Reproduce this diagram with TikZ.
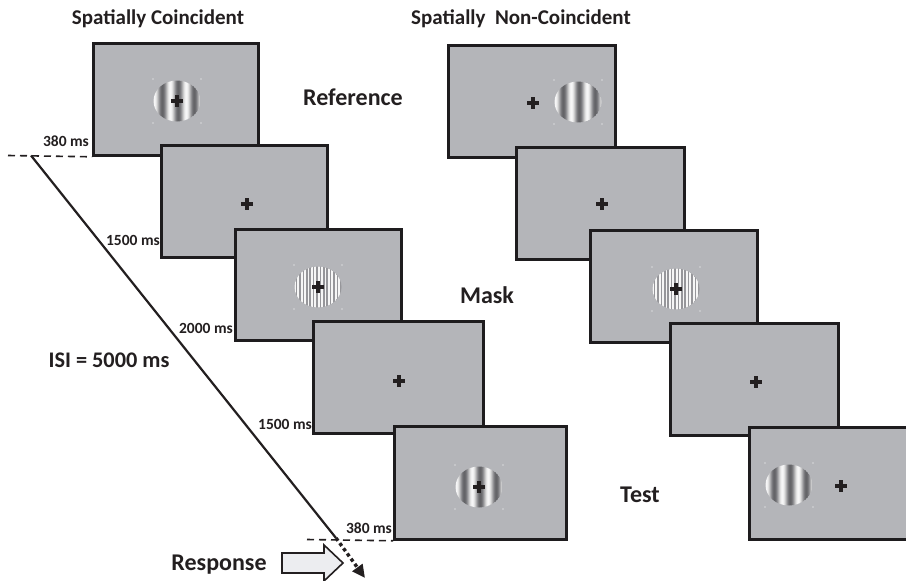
\documentclass[tikz,border=0pt]{standalone}
\usepackage{fontspec}
\setmainfont{Carlito}
\usetikzlibrary{calc,arrows.meta}

\definecolor{scr}{RGB}{180,181,185}
\definecolor{frame}{RGB}{30,28,30}
\definecolor{ink}{RGB}{35,31,32}
\definecolor{gdark}{RGB}{100,100,104}
\definecolor{glight}{RGB}{246,246,246}
\definecolor{mgray}{RGB}{150,150,154}
\definecolor{arrowfill}{RGB}{236,237,240}

\tikzset{
  screen/.style={draw=frame, fill=scr, line width=2.6pt, inner sep=0pt},
  crossline/.style={draw=ink, line width=3.3pt},
  timeline/.style={draw=ink, line width=2.2pt},
  dashline/.style={draw=ink, line width=1.6pt, dash pattern=on 7pt off 5pt},
  dotarrow/.style={draw=ink, line width=3.4pt, dash pattern=on 3.4pt off 3pt,
    -{Triangle[length=13pt,width=12pt]}},
  blockarrow/.style={draw=ink, fill=arrowfill, line width=1.6pt, line join=miter},
  title/.style={font=\fontsize{21}{24}\selectfont\bfseries, text=ink, anchor=base, inner sep=0pt},
  phase/.style={font=\fontsize{24}{28}\selectfont\bfseries, text=ink, anchor=base, inner sep=0pt},
  isi/.style={font=\fontsize{22.3}{26}\selectfont\bfseries, text=ink, anchor=base, inner sep=0pt},
  dur/.style={font=\fontsize{15.5}{18}\selectfont\bfseries, text=ink, anchor=base, inner sep=0pt},
}

% fixation cross
\newcommand\fixcross[2]{%
  \draw[crossline] (#1-6,#2) -- (#1+6,#2) (#1,#2-6) -- (#1,#2+6);}

% faint marker dots around a stimulus
\newcommand\cornerdots[2]{%
  \foreach \dx/\dy in {-24/-22,24/-22,-24/22,24/22}
    \fill[white] (#1+\dx,#2+\dy) circle (0.7);}

% low spatial frequency sinusoidal grating in an elliptical window
\newcommand\refgrating[2]{%
  \begin{scope}
    \clip (#1,#2) ellipse [x radius=23.5, y radius=20.5];
    \foreach \k in {0,...,48}{%
      \pgfmathsetmacro\g{50-50*cos(360*(\k-25)/16)}%
      \fill[glight!\g!gdark] (#1-24.5+\k,#2-22) rectangle ++(1.1,44);
    }
  \end{scope}
  \cornerdots{#1}{#2}}

% high spatial frequency square-wave mask
\newcommand\maskgrating[2]{%
  \begin{scope}
    \clip (#1,#2) ellipse [x radius=23.5, y radius=20.5];
    \fill[mgray] (#1-25,#2-22) rectangle (#1+25,#2+22);
    \foreach \k in {0,...,14}
      \fill[glight] (#1-24+\k*3.4,#2-22) rectangle ++(1.7,44);
  \end{scope}
  \cornerdots{#1}{#2}}

\begin{document}
\begin{tikzpicture}[x=1pt,y=-1pt]
\clip (0,0) rectangle (906,581);
\fill[white] (0,0) rectangle (906,581);

% ---------- spatially coincident sequence ----------
\node[screen, minimum width=165pt, minimum height=112pt] (L1) at (176,99.5) {};
\refgrating{177}{101}\fixcross{177}{101}
\node[screen, minimum width=166pt, minimum height=112pt] (L2) at (244.5,201.5) {};
\fixcross{247}{204}
\node[screen, minimum width=166pt, minimum height=111pt] (L3) at (318.5,285) {};
\maskgrating{318}{287}\fixcross{318}{287}
\node[screen, minimum width=170pt, minimum height=112pt] (L4) at (398.5,377.5) {};
\fixcross{399}{381}
\node[screen, minimum width=172pt, minimum height=113pt] (L5) at (480.5,483) {};
\refgrating{479}{487}\fixcross{479}{487}

% ---------- spatially non-coincident sequence ----------
\node[screen, minimum width=167pt, minimum height=112pt] (R1) at (532,101.5) {};
\refgrating{578}{102}\fixcross{533}{103}
\node[screen, minimum width=168pt, minimum height=112pt] (R2) at (600.5,203.5) {};
\fixcross{602}{204}
\node[screen, minimum width=167pt, minimum height=112pt] (R3) at (674,286.5) {};
\maskgrating{676}{289}\fixcross{676}{289}
\node[screen, minimum width=168pt, minimum height=112pt] (R4) at (754.5,379.5) {};
\fixcross{756}{382}
\node[screen, minimum width=172pt, minimum height=112pt] (R5) at (835.5,483.5) {};
\refgrating{789}{485}\fixcross{841}{486}

% ---------- time line ----------
\coordinate (t0) at (8,155.5);
\coordinate (d0) at (31,155.5);
\coordinate (d1) at (336,538);
\coordinate (d2) at (365,578);
\coordinate (b0) at (307,539.5);
\draw[dashline] (t0) -- (L1.south west);
\draw[dashline] (b0) -- (L5.south west);
\draw[timeline] (d0) -- (d1);
\draw[dotarrow] (d1) -- (d2);

% response arrow
\draw[blockarrow] (282,553) -- (324,553) -- (324,545) -- (343,563)
  -- (324,581) -- (324,573) -- (282,573) -- cycle;

% ---------- labels ----------
\node[title] (tc) at (158,24) {Spatially Coincident};
\node[title] (tn) at (521,24) {Spatially\ \ Non-Coincident};
\node[phase] (lref) at (353,105) {Reference};
\node[phase] (lmask) at (487,303) {Mask};
\node[phase] (ltest) at (640,502) {Test};
\node[isi] (lisi) at (109,367) {ISI = 5000 ms};
\node[phase] (lresp) at (219,570) {Response};
\node[dur] (s1) at (66,146) {380 ms};
\node[dur] (s2) at (133,245) {1500 ms};
\node[dur] (s3) at (206,333) {2000 ms};
\node[dur] (s4) at (285,429) {1500 ms};
\node[dur] (s5) at (369,533) {380 ms};
\end{tikzpicture}
\end{document}
